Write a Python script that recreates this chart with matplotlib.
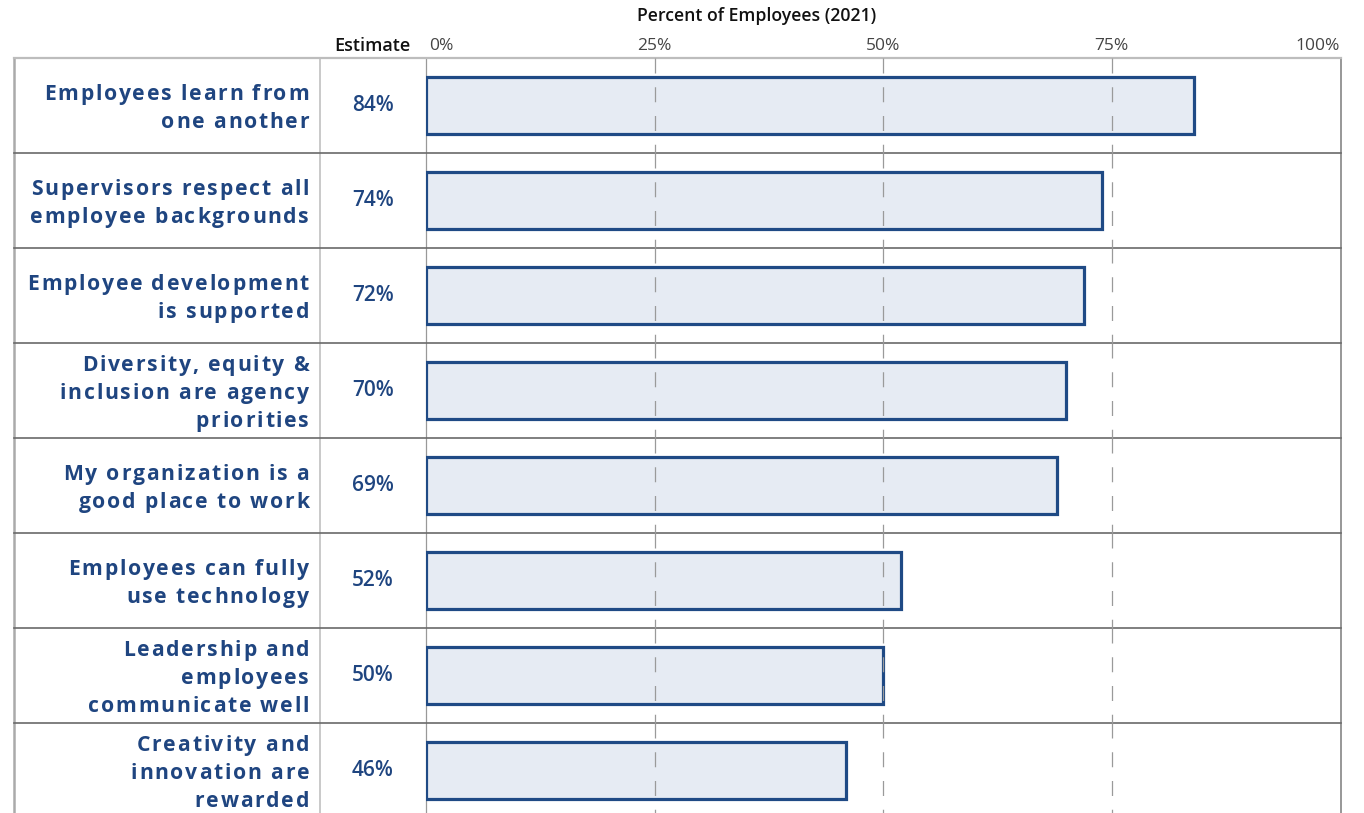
import numpy as np
import matplotlib
matplotlib.use('Agg')
import matplotlib.pyplot as plt
import matplotlib.transforms as mtransforms
from matplotlib.font_manager import FontProperties, findfont
from matplotlib.ft2font import FT2Font

try:
    from matplotlib.ft2font import LoadFlags
    NO_HINT = LoadFlags.NO_HINTING
except ImportError:
    from matplotlib.ft2font import LOAD_NO_HINTING as NO_HINT

labels = [
    "Employees learn from\none another",
    "Supervisors respect all\nemployee backgrounds",
    "Employee development\nis supported",
    "Diversity, equity &\ninclusion are agency\npriorities",
    "My organization is a\ngood place to work",
    "Employees can fully\nuse technology",
    "Leadership and\nemployees\ncommunicate well",
    "Creativity and\ninnovation are\nrewarded",
]
estimates = [84, 74, 72, 70, 69, 52, 50, 46]
ticks = [0, 25, 50, 75, 100]
tick_labels = ["0%", "25%", "50%", "75%", "100%"]

BLUE = "#1F4A85"
TEXT_BLUE = "#1F4580"
W, H = 1364, 813
ROW = 95
TOP = 58

plt.rcParams['font.family'] = ['Open Sans', 'DejaVu Sans']

fig = plt.figure(figsize=(W / 100, H / 100), dpi=100)
n = len(labels)
ax = fig.add_axes([426 / W, 1 - (TOP + ROW * n) / H, (1340 - 426) / W, ROW * n / H])
ax.set_xlim(0, 100)
ax.set_ylim(n - 0.5, -0.5)
ax.axis('off')

y = np.arange(n)
ax.barh(y, estimates, height=0.61, color="#E6EBF3", edgecolor=BLUE,
        linewidth=2.3, zorder=2)

# dashed gridlines, restarting in each row
for t in ticks[1:-1]:
    ax.vlines(np.full(n, t), y - 0.5, y + 0.5, colors="#9A9A9A", linewidth=0.9,
              linestyles=[(0, (12, 11))], zorder=3)

# table frame
fy = mtransforms.blended_transform_factory(fig.transFigure, ax.transData)
x0, x1 = 14 / W, 1341 / W
ax.plot([x0, x1], [-0.5, -0.5], transform=fy, color="#BDBDBD", lw=1.6, clip_on=False)
for b in y[:-1] + 0.5:
    ax.plot([x0, x1], [b, b], transform=fy, color="#6A6A6A", lw=1.2, clip_on=False)
for xv, c, lw in [(14, "#AAAAAA", 1.8), (320, "#BBBBBB", 1.1),
                  (426, "#999999", 0.9), (1341, "#7A7A7A", 1.1)]:
    ax.plot([xv / W, xv / W], [-0.5, n - 0.5], transform=fy, color=c, lw=lw,
            clip_on=False, zorder=1)

# row labels: bold with letter spacing, drawn glyph by glyph
LSIZE = 15.2
SPACING = 1.8
prop = FontProperties(family='Open Sans', weight='bold', size=LSIZE)
ft = FT2Font(findfont(prop))
ft.set_size(LSIZE, 100)


def adv(ch):
    g = ft.load_char(ord(ch), flags=NO_HINT)
    return g.linearHoriAdvance / 65536


LINE = 28.3
RIGHT = 309
for i, lab in enumerate(labels):
    lines = lab.split("\n")
    k = len(lines)
    for j, line in enumerate(lines):
        base = 8.6 + (j - (k - 1) / 2) * LINE
        widths = [adv(ch) for ch in line]
        total = sum(widths) + SPACING * (len(line) - 1)
        pen = -total
        for ch, w in zip(line, widths):
            if ch != " ":
                tr = fy + mtransforms.Affine2D().translate(pen, -base)
                ax.text(RIGHT / W, i, ch, transform=tr, fontproperties=prop,
                        color=TEXT_BLUE, ha='left', va='baseline')
            pen += w + SPACING

# estimate column
for i, v in enumerate(estimates):
    ax.text(373 / W, i, f"{v}%", transform=fy, ha='center', va='center',
            fontsize=15, fontweight='semibold', color=TEXT_BLUE)

# headers and tick labels
fig.text(410 / W, 1 - 46 / H, "Estimate", ha='right', va='center',
         fontsize=13, fontweight='semibold', color="#111111")
fig.text(757 / W, 1 - 16 / H, "Percent of Employees (2021)", ha='center',
         va='center', fontsize=12.7, fontweight='semibold', color="#111111")
xf = mtransforms.blended_transform_factory(ax.transData, fig.transFigure)
for t, s in zip(ticks, tick_labels):
    ha = 'left' if t == 0 else ('right' if t == 100 else 'center')
    ax.text(t + (0.3 if t == 0 else 0), 1 - 46 / H, s, transform=xf, ha=ha,
            va='center', fontsize=12.5, color="#444444")

fig.savefig("out.png", dpi=100)
